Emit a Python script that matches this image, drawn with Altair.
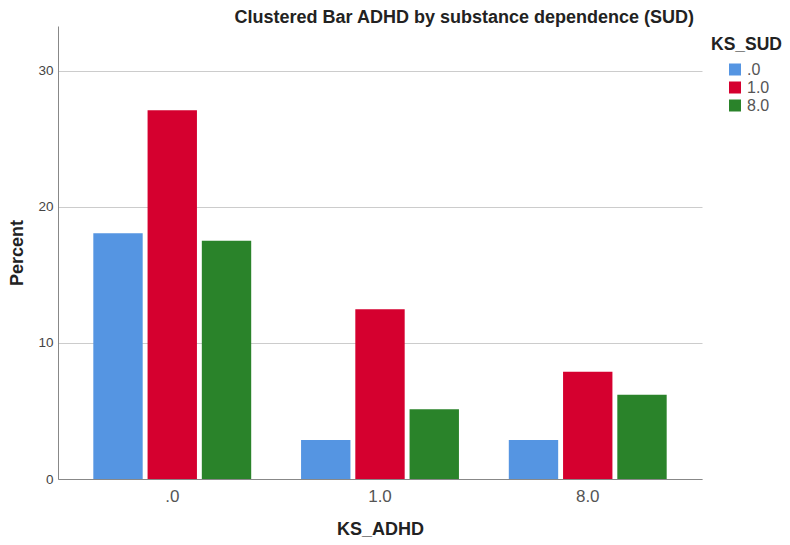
import altair as alt
import pandas as pd

adhd_levels = [".0", "1.0", "8.0"]
sud_levels = [".0", "1.0", "8.0"]
pct_sud0 = [18.07, 2.87, 2.87]
pct_sud1 = [27.11, 12.48, 7.88]
pct_sud8 = [17.52, 5.12, 6.19]
colors = ["#5595E2", "#D5002F", "#2A832A"]

rows = []
for sud, vals in zip(sud_levels, [pct_sud0, pct_sud1, pct_sud8]):
    for a, v in zip(adhd_levels, vals):
        rows.append({"KS_ADHD": a, "KS_SUD": sud, "Percent": v})
df = pd.DataFrame(rows)

FONT = "Liberation Sans"

chart = alt.Chart(df).mark_bar().encode(
    x=alt.X("KS_ADHD:N", sort=adhd_levels,
            scale=alt.Scale(paddingInner=0.24, paddingOuter=0.17),
            axis=alt.Axis(labelAngle=0, labelFontSize=17, labelColor="#555", labelPadding=9,
                          ticks=False, domainColor="#888", titleFontSize=18, titleFontWeight="bold",
                          titleColor="#222", titlePadding=16, title="KS_ADHD")),
    xOffset=alt.XOffset("KS_SUD:N", sort=sud_levels,
                        scale=alt.Scale(paddingInner=0.09, paddingOuter=0)),
    y=alt.Y("Percent:Q", scale=alt.Scale(domain=[0, 33.3], nice=False),
            axis=alt.Axis(values=[0, 10, 20, 30], labelFontSize=13.5, labelColor="#444", labelPadding=5,
                          ticks=False, domainColor="#888", gridColor="#cccccc",
                          titleFontSize=18, titleFontWeight="bold", titleColor="#222",
                          titlePadding=11, title="Percent")),
    color=alt.Color("KS_SUD:N", sort=sud_levels,
                    scale=alt.Scale(domain=sud_levels, range=colors),
                    legend=alt.Legend(title="KS_SUD", orient="none", legendX=653, legendY=10,
                                      titleFontSize=17.5, titleFontWeight="bold", titleColor="#222",
                                      titlePadding=8, symbolType="square", symbolSize=144,
                                      symbolStrokeWidth=0, symbolOffset=16, labelOffset=4,
                                      labelFontSize=16, labelColor="#555", rowPadding=2,
                                      padding=0)),
).properties(
    width=644, height=453,
    title=alt.TitleParams("Clustered Bar ADHD by substance dependence (SUD)", anchor="end",
                          frame="group", fontSize=18, fontWeight="bold", color="#222",
                          dx=-8, offset=-1),
    padding={"left": 0, "top": 1, "right": 0, "bottom": 0},
).configure(font=FONT).configure_view(stroke=None).configure_axis(gridWidth=1)

chart.save("out.html", embed_options={"renderer": "svg", "actions": False})
